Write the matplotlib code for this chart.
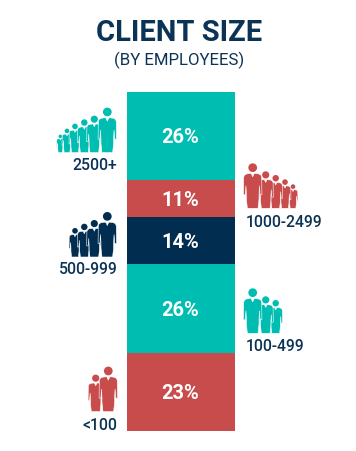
import matplotlib
matplotlib.use("Agg")
import matplotlib.pyplot as plt
from matplotlib.patches import Circle, Polygon

segments = ["2500+", "1000-2499", "500-999", "100-499", "<100"]
shares = [26, 11, 14, 26, 23]

TEAL, RED, NAVY = "#00BDB2", "#C84C4C", "#002D50"
seg_colors = [TEAL, RED, NAVY, TEAL, RED]
TEXT = "#0B3355"
W, H = 356, 452

plt.rcParams["font.family"] = ["Roboto", "DejaVu Sans"]
fig = plt.figure(figsize=(W / 100, H / 100), dpi=100, facecolor="white")

# stacked bar
ax = fig.add_axes([127 / W, (H - 431.6) / H, 108 / W, 339 / H])
ax.set_xlim(0, 1)
ax.set_ylim(sum(shares), 0)
ax.axis("off")
bottom = 0
for v, c in zip(shares, seg_colors):
    ax.bar(0.5, v, width=1, bottom=bottom, color=c, linewidth=0)
    ax.text(0.49, bottom + v / 2 + 0.2, f"{v}%", color="white", fontsize=14.4,
            fontweight="bold", ha="center", va="center")
    bottom += v

# overlay in pixel coordinates for title, labels and pictograms
ov = fig.add_axes([0, 0, 1, 1], facecolor="none")
ov.set_xlim(0, W)
ov.set_ylim(H, 0)
ov.axis("off")

ov.text(179.5, 41, "CLIENT SIZE", color=TEXT, fontsize=21, fontweight="bold",
        ha="center", va="baseline")
ov.text(179, 65, "(BY EMPLOYEES)", color=TEXT, fontsize=12.1, fontweight="normal",
        ha="center", va="baseline")

BODY = [(0.035, 0.225), (0.13, 0.235), (0.18, 0.26), (0.20, 0.31), (0.205, 0.70),
        (0.165, 0.70), (0.15, 0.50), (0.14, 0.70), (0.14, 0.80), (0.118, 1.0),
        (-0.118, 1.0), (-0.14, 0.80), (-0.14, 0.70), (-0.15, 0.50), (-0.165, 0.70),
        (-0.205, 0.70), (-0.20, 0.31), (-0.18, 0.26), (-0.13, 0.235), (-0.035, 0.225),
        (0, 0.30)]


def person(cx, bottom_y, h, color):
    top = bottom_y - h
    pts = [(cx + x * h, top + y * h) for x, y in BODY]
    ov.add_patch(Polygon(pts, closed=True, facecolor=color, edgecolor="white",
                         linewidth=0.4, joinstyle="round", zorder=3))
    ov.add_patch(Circle((cx, top + 0.097 * h), 0.097 * h, facecolor=color,
                        edgecolor="none", zorder=3))


def group(xs, heights, bottom_y, color):
    for x, h in sorted(zip(xs, heights), key=lambda t: t[1]):
        person(x, bottom_y, h, color)


group([107.3, 94.3, 84.3, 75, 67, 60.3], [45, 37, 33.3, 29, 24, 18], 153.6, TEAL)
group([107.3, 94.3, 84.3, 75], [45, 37, 33.3, 29], 258, NAVY)
group([252.7, 265.7, 275.7, 285, 293], [45, 37, 33.3, 29, 24], 209.3, RED)
group([252.7, 265.7, 275.7], [45, 37, 33.3], 334.3, TEAL)
group([108.3, 95.7], [45, 37], 412.6, RED)

LABEL = dict(color=TEXT, fontsize=11.3, fontweight="medium", va="baseline")
ov.text(117.5, 170, segments[0], ha="right", **LABEL)
ov.text(245.5, 227.5, segments[1], ha="left", **LABEL)
ov.text(117.5, 274, segments[2], ha="right", **LABEL)
ov.text(245.5, 351.5, segments[3], ha="left", **LABEL)
ov.text(117.5, 430, segments[4], ha="right", **LABEL)

fig.savefig("out.png", dpi=100, facecolor="white")
